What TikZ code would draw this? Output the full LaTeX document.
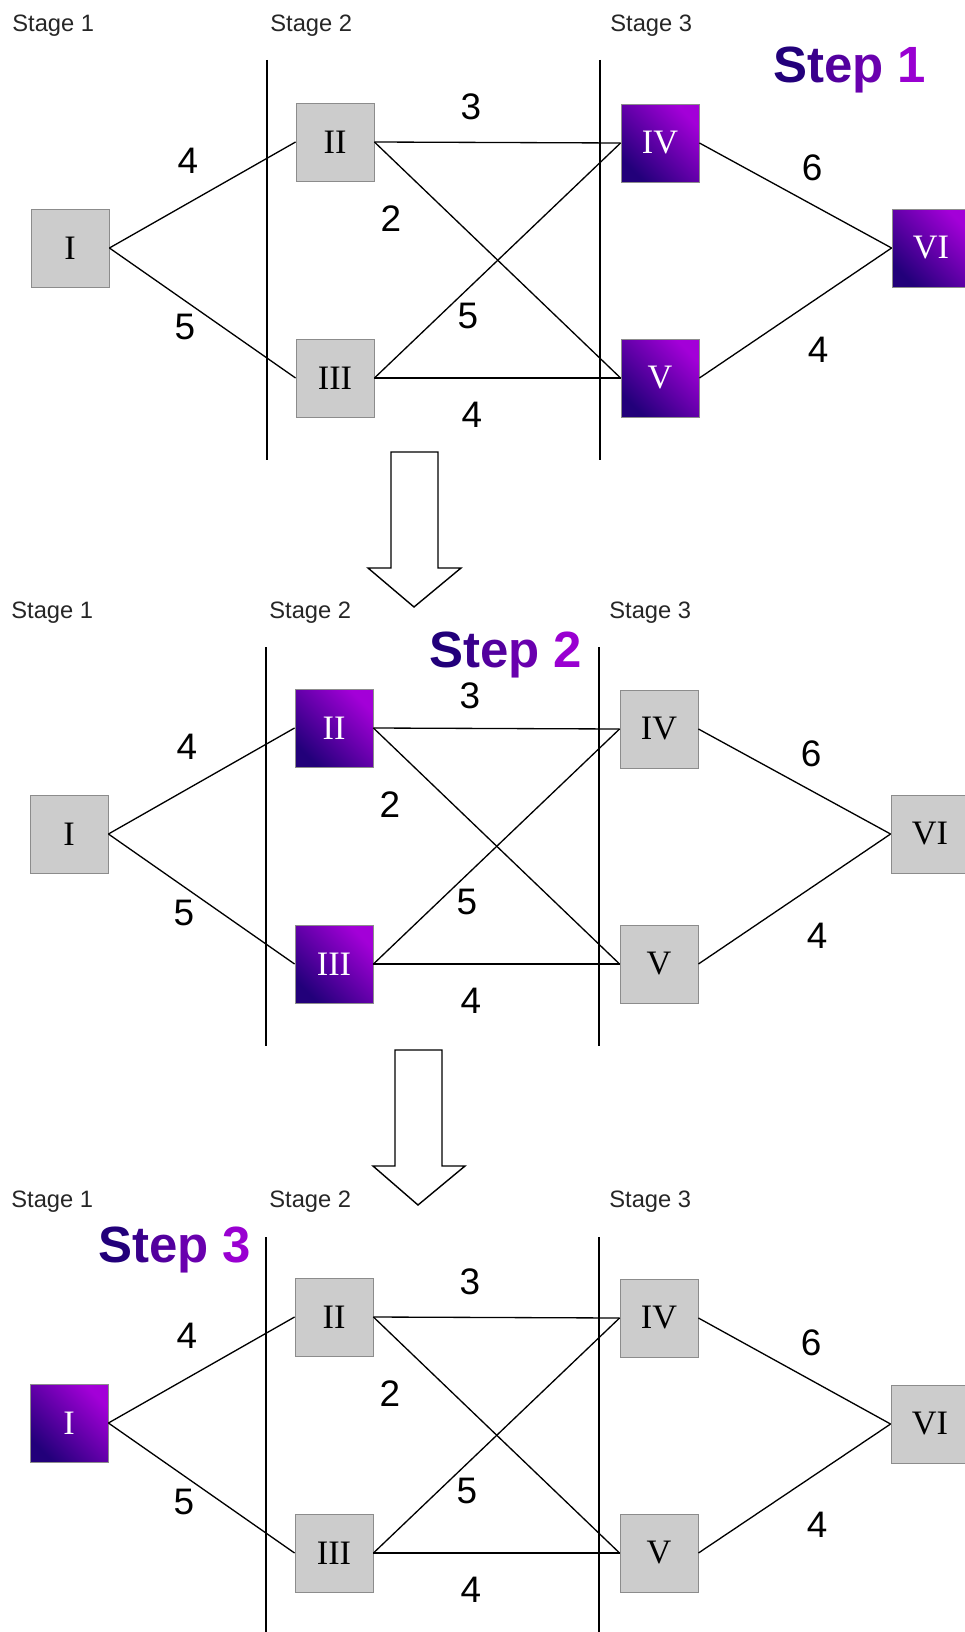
\documentclass[tikz,border=0pt]{standalone}
\usepackage{fontspec}
\setmainfont{Liberation Serif}
\setsansfont{Liberation Sans}
\usepackage{xcolor}
\usepackage{tikz}
\definecolor{DPDark}{HTML}{22007A}
\definecolor{DPLight}{HTML}{A300D8}
\definecolor{DPGrey}{HTML}{CCCCCC}
\definecolor{DPFrame}{HTML}{8C8C8C}
\definecolor{DPText}{HTML}{262626}
\newcommand{\steptitle}[1]{\textcolor{DPDark}{S}\textcolor{DPLight!18!DPDark}{t}\textcolor{DPLight!38!DPDark}{e}\textcolor{DPLight!55!DPDark}{p} \textcolor{DPLight!92!DPDark}{#1}}

\begin{document}
\begin{tikzpicture}[x=0.02cm,y=-0.02cm,
  box/.style={draw=DPFrame,line width=0.5pt,minimum size=1.56cm,inner sep=0pt,font=\fontsize{19.5}{20}\selectfont},
  open/.style={box,fill=DPGrey},
  solved/.style={box,bottom color=DPDark,top color=DPLight,shading angle=-45,text=white},
  arc/.style={line width=0.75pt},
  wt/.style={inner sep=0.5pt,font=\sffamily\fontsize{21}{24}\selectfont},
  stage/.style={anchor=base west,inner sep=0pt,text=DPText,font=\sffamily\fontsize{13.5}{15}\selectfont},
  divider/.style={line width=0.9pt},
  steplbl/.style={anchor=base west,inner sep=0pt,text depth=0pt,font=\sffamily\bfseries\fontsize{29}{32}\selectfont},
  bigarrow/.style={line width=0.8pt,fill=white}]
\path[use as bounding box] (0,0) rectangle (964,1632);
% step 1
\node[stage] (s1a) at (12,32) {Stage 1};
\node[stage] (s1b) at (270,32) {Stage 2};
\node[stage] (s1c) at (610,32) {Stage 3};
\draw[divider] (267,60) -- (267,460);
\draw[divider] (600,60) -- (600,460);
\node[steplbl] (t1) at (773,83) {\steptitle{1}};
\node[open] (aI) at (70,248) {I};
\node[open] (aII) at (335,142) {II};
\node[open] (aIII) at (335,378) {III};
\node[solved] (aIV) at (660,143) {IV};
\node[solved] (aV) at (660,378) {V};
\node[solved] (aVI) at (931,248) {VI};
\draw[arc] (aI.east) -- (aII.west);
\draw[arc] (aI.east) -- (aIII.west);
\draw[arc] (aII.east) -- (aIV.west);
\draw[arc] (aII.east) -- (aV.west);
\draw[arc] (aIII.east) -- (aIV.west);
\draw[arc] (aIII.east) -- (aV.west);
\draw[arc] (aIV.east) -- (aVI.west);
\draw[arc] (aV.east) -- (aVI.west);
\node[wt] (w1a) at (188,161) {4};
\node[wt] (w1b) at (185,327) {5};
\node[wt] (w1c) at (471,107) {3};
\node[wt] (w1d) at (391,219) {2};
\node[wt] (w1e) at (468,316) {5};
\node[wt] (w1f) at (472,415) {4};
\node[wt] (w1g) at (812,168) {6};
\node[wt] (w1h) at (818,350) {4};
\draw[bigarrow] (391,452) -- (438,452) -- (438,568) -- (461,568) -- (414,607) -- (368,568) -- (391,568) -- cycle;
% step 2
\node[stage] (s2a) at (11,618) {Stage 1};
\node[stage] (s2b) at (269,618) {Stage 2};
\node[stage] (s2c) at (609,618) {Stage 3};
\draw[divider] (266,647) -- (266,1046);
\draw[divider] (599,647) -- (599,1046);
\node[steplbl] (t2) at (429,667) {\steptitle{2}};
\node[open] (bI) at (69,834) {I};
\node[solved] (bII) at (334,728) {II};
\node[solved] (bIII) at (334,964) {III};
\node[open] (bIV) at (659,729) {IV};
\node[open] (bV) at (659,964) {V};
\node[open] (bVI) at (930,834) {VI};
\draw[arc] (bI.east) -- (bII.west);
\draw[arc] (bI.east) -- (bIII.west);
\draw[arc] (bII.east) -- (bIV.west);
\draw[arc] (bII.east) -- (bV.west);
\draw[arc] (bIII.east) -- (bIV.west);
\draw[arc] (bIII.east) -- (bV.west);
\draw[arc] (bIV.east) -- (bVI.west);
\draw[arc] (bV.east) -- (bVI.west);
\node[wt] (w2a) at (187,747) {4};
\node[wt] (w2b) at (184,913) {5};
\node[wt] (w2c) at (470,696) {3};
\node[wt] (w2d) at (390,805) {2};
\node[wt] (w2e) at (467,902) {5};
\node[wt] (w2f) at (471,1001) {4};
\node[wt] (w2g) at (811,754) {6};
\node[wt] (w2h) at (817,936) {4};
\draw[bigarrow] (395,1050) -- (442,1050) -- (442,1166) -- (465,1166) -- (418,1205) -- (373,1166) -- (395,1166) -- cycle;
% step 3
\node[stage] (s3a) at (11,1207) {Stage 1};
\node[stage] (s3b) at (269,1207) {Stage 2};
\node[stage] (s3c) at (609,1207) {Stage 3};
\draw[divider] (266,1237) -- (266,1640);
\draw[divider] (599,1237) -- (599,1640);
\node[steplbl] (t3) at (98,1262) {\steptitle{3}};
\node[solved] (cI) at (69,1423) {I};
\node[open] (cII) at (334,1317) {II};
\node[open] (cIII) at (334,1553) {III};
\node[open] (cIV) at (659,1318) {IV};
\node[open] (cV) at (659,1553) {V};
\node[open] (cVI) at (930,1424) {VI};
\draw[arc] (cI.east) -- (cII.west);
\draw[arc] (cI.east) -- (cIII.west);
\draw[arc] (cII.east) -- (cIV.west);
\draw[arc] (cII.east) -- (cV.west);
\draw[arc] (cIII.east) -- (cIV.west);
\draw[arc] (cIII.east) -- (cV.west);
\draw[arc] (cIV.east) -- (cVI.west);
\draw[arc] (cV.east) -- (cVI.west);
\node[wt] (w3a) at (187,1336) {4};
\node[wt] (w3b) at (184,1502) {5};
\node[wt] (w3c) at (470,1282) {3};
\node[wt] (w3d) at (390,1394) {2};
\node[wt] (w3e) at (467,1491) {5};
\node[wt] (w3f) at (471,1590) {4};
\node[wt] (w3g) at (811,1343) {6};
\node[wt] (w3h) at (817,1525) {4};
\end{tikzpicture}
\end{document}
